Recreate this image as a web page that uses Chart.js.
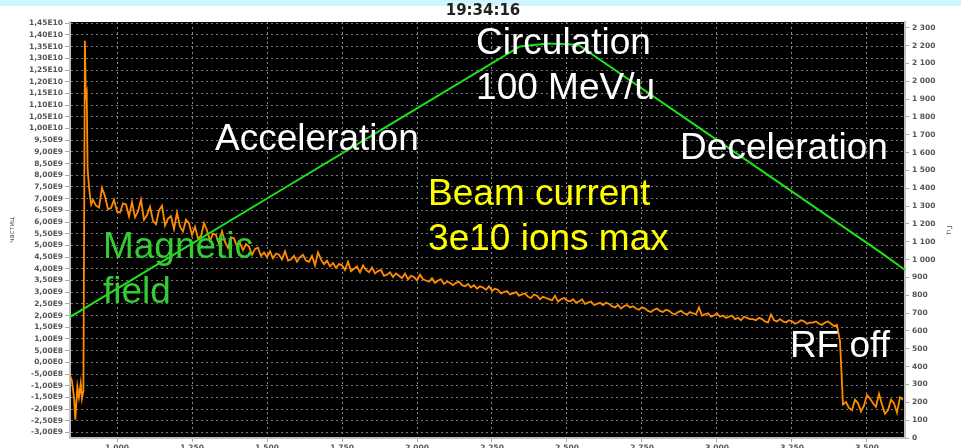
<!DOCTYPE html>
<html>
<head>
<meta charset="utf-8">
<script src="https://cdn.jsdelivr.net/npm/chart.js@4.4.1/dist/chart.umd.min.js"></script>
<style>
  html, body { margin: 0; padding: 0; background: #fff; overflow: hidden; }
  canvas { display: block; }
</style>
</head>
<body>
<canvas id="scopeChart" width="961" height="458"></canvas>
<script>
// Сигналы осциллографа: ток пучка (частицы, ×1E9) и магнитное поле (Гц)
const timeTicks = [1.0, 1.25, 1.5, 1.75, 2.0, 2.25, 2.5, 2.75, 3.0, 3.25, 3.5];
const beamTicks = [-3.0, -2.5, -2.0, -1.5, -1.0, -0.5, 0.0, 0.5, 1.0, 1.5, 2.0, 2.5, 3.0, 3.5,
  4.0, 4.5, 5.0, 5.5, 6.0, 6.5, 7.0, 7.5, 8.0, 8.5, 9.0, 9.5, 10.0, 10.5, 11.0, 11.5,
  12.0, 12.5, 13.0, 13.5, 14.0, 14.5];
const fieldTicks = [0, 100, 200, 300, 400, 500, 600, 700, 800, 900, 1000, 1100, 1200,
  1300, 1400, 1500, 1600, 1700, 1800, 1900, 2000, 2100, 2200, 2300];

// магнитное поле
const fieldTimes = [0.843, 1.543, 1.943, 2.343, 2.437, 2.537, 3.043, 3.543, 3.627];
const fieldValues = [678, 1386, 1790, 2195, 2212, 2205, 1621, 1043, 942];

// ток пучка до и во время инжекции
const injectTimes = [0.843, 0.850, 0.857, 0.861, 0.868, 0.873, 0.879, 0.883, 0.888,
  0.893, 0.896, 0.899, 0.902, 0.906, 0.910, 0.914];
const injectValues = [-0.55, -0.80, -1.55, -2.45, -1.05, -1.50, -0.90, -1.55, -1.20,
  13.75, 11.40, 11.55, 8.25, 7.60, 7.10, 6.75];

// ток пучка после инжекции, отсчёты через 10 мс начиная с 0,920 с
const beamT0 = 0.92;
const beamDt = 0.01;
const beamValues = [
  6.95, 6.70, 6.62, 7.45, 7.10, 6.55, 6.60, 6.95, 6.45, 6.40,
  6.80, 6.75, 6.25, 6.85, 6.20, 6.45, 6.95, 6.10, 6.30, 6.65,
  6.05, 5.90, 6.50, 6.70, 5.85, 6.15, 6.25, 5.70, 6.40, 5.80,
  5.60, 6.10, 5.95, 5.45, 5.80, 5.30, 5.40, 5.95, 5.65, 5.20,
  5.50, 5.45, 5.05, 5.60, 5.15, 4.90, 5.35, 5.30, 4.95, 5.10,
  4.80, 5.05, 4.95, 4.60, 4.85, 4.90, 4.55, 4.70, 4.50, 4.75,
  4.45, 4.65, 4.60, 4.40, 4.75, 4.35, 4.40, 4.55, 4.30, 4.50,
  4.60, 4.35, 4.30, 4.55, 4.15, 4.70, 4.40, 4.20, 4.35, 4.10,
  4.25, 4.05, 4.20, 4.15, 3.95, 4.30, 3.90, 4.00, 4.10, 3.85,
  4.15, 3.95, 3.85, 4.05, 3.80, 3.90, 3.95, 3.70, 3.75, 3.85,
  3.65, 3.80, 3.70, 3.60, 3.80, 3.55, 3.70, 3.65, 3.50, 3.75,
  3.55, 3.50, 3.45, 3.60, 3.40, 3.50, 3.55, 3.35, 3.45, 3.40,
  3.30, 3.40, 3.45, 3.30, 3.25, 3.35, 3.20, 3.30, 3.15, 3.25,
  3.20, 3.10, 3.25, 3.05, 3.15, 3.10, 2.95, 3.00, 3.05, 2.90,
  2.95, 3.00, 2.85, 2.90, 2.95, 2.80, 2.75, 2.90, 2.85, 2.70,
  2.80, 2.75, 2.70, 2.65, 2.85, 2.60, 2.70, 2.75, 2.65, 2.60,
  2.70, 2.55, 2.60, 2.70, 2.50, 2.55, 2.60, 2.45, 2.50, 2.55,
  2.45, 2.55, 2.50, 2.40, 2.35, 2.45, 2.30, 2.40, 2.45, 2.35,
  2.40, 2.30, 2.25, 2.35, 2.30, 2.20, 2.15, 2.25, 2.30, 2.20,
  2.15, 2.25, 2.20, 2.10, 2.05, 2.15, 2.20, 2.10, 2.05, 2.15,
  2.10, 2.05, 2.35, 2.00, 2.05, 2.10, 1.95, 2.00, 2.10, 1.95,
  2.00, 1.90, 1.95, 2.00, 1.85, 1.90, 1.80, 1.95, 1.90, 1.85,
  1.85, 1.80, 1.90, 1.85, 1.75, 1.70, 2.05, 1.80, 1.75, 1.85,
  1.75, 1.70, 1.80, 1.75, 1.65, 1.70, 1.80, 1.75, 1.65, 1.70,
  1.70, 1.75, 1.65, 1.60, 1.70, 1.75, 1.65, 1.55, 1.60, 0.90,
  -1.80, -1.70, -1.95, -2.05, -1.60, -1.75, -2.10, -1.85, -1.40, -1.55,
  -1.75, -1.90, -1.35, -1.80, -2.20, -2.05, -1.60, -1.75, -2.15, -1.50,
  -1.60
];

// подписи на поле графика: время, ток (×1E9) для базовой линии текста
const notes = [
  { text: 'Circulation', color: '#ffffff', t: 2.197, v: 13.19 },
  { text: '100 MeV/u', color: '#ffffff', t: 2.197, v: 11.26 },
  { text: 'Acceleration', color: '#ffffff', t: 1.327, v: 9.08 },
  { text: 'Deceleration', color: '#ffffff', t: 2.877, v: 8.70 },
  { text: 'Beam current', color: '#ffff00', t: 2.037, v: 6.73 },
  { text: '3e10 ions max', color: '#ffff00', t: 2.037, v: 4.80 },
  { text: 'Magnetic', color: '#33cc33', t: 0.953, v: 4.46 },
  { text: 'field', color: '#33cc33', t: 0.953, v: 2.54 },
  { text: 'RF off', color: '#ffffff', t: 3.243, v: 0.24 }
];

const beamPoints = injectTimes.map((t, i) => ({ x: t, y: injectValues[i] }))
  .concat(beamValues.map((v, i) => ({ x: beamT0 + i * beamDt, y: v })));
const fieldPoints = fieldTimes.map((t, i) => ({ x: t, y: fieldValues[i] }));

const tickFont = { family: '"DejaVu Sans", sans-serif', size: 7.5, weight: 'bold' };

function fmtBeam(v) {
  return (v * 1e9).toExponential(2).replace('.', ',').replace('e+', 'E').replace('e', 'E');
}
function fmtField(v) {
  if (v < 1000) return String(v);
  return Math.floor(v / 1000) + ' ' + String(v % 1000).padStart(3, '0');
}

const scopeBackground = {
  id: 'scopeBackground',
  beforeDraw(chart) {
    const { ctx, chartArea: a } = chart;
    ctx.save();
    ctx.fillStyle = '#ffffff';
    ctx.fillRect(0, 0, chart.width, chart.height);
    ctx.fillStyle = '#ccf6fb';
    ctx.fillRect(0, 0, chart.width, 6);
    ctx.fillStyle = '#000000';
    ctx.fillRect(a.left, a.top, a.right - a.left, a.bottom - a.top);
    // время снимка
    ctx.fillStyle = '#222';
    ctx.font = 'bold 15px "DejaVu Sans", sans-serif';
    ctx.textAlign = 'center';
    ctx.textBaseline = 'middle';
    ctx.fillText('19:34:16', 483, 11);
    ctx.restore();
  },
  afterDatasetsDraw(chart) {
    const { ctx } = chart;
    const xs = chart.scales.x;
    const ys = chart.scales.yBeam;
    ctx.save();
    ctx.font = '37px "Liberation Sans", Arial, sans-serif';
    ctx.textAlign = 'left';
    ctx.textBaseline = 'alphabetic';
    notes.forEach(n => {
      ctx.fillStyle = n.color;
      ctx.fillText(n.text, xs.getPixelForValue(n.t), ys.getPixelForValue(n.v));
    });
    ctx.restore();
  }
};

const ctx = document.getElementById('scopeChart').getContext('2d');
new Chart(ctx, {
  type: 'line',
  data: {
    datasets: [
      {
        label: 'Магнитное поле',
        data: fieldPoints,
        yAxisID: 'yField',
        borderColor: '#1ee01e',
        borderWidth: 2,
        pointRadius: 0,
        tension: 0
      },
      {
        label: 'Ток пучка',
        data: beamPoints,
        yAxisID: 'yBeam',
        borderColor: '#ff8c00',
        borderWidth: 1.8,
        pointRadius: 0,
        tension: 0
      }
    ]
  },
  options: {
    responsive: false,
    animation: false,
    layout: { padding: { top: 22, left: 0, right: 0, bottom: 0 } },
    plugins: {
      legend: { display: false },
      title: { display: false },
      tooltip: { enabled: false }
    },
    scales: {
      x: {
        type: 'linear',
        min: 0.8433,
        max: 3.6267,
        afterBuildTicks: s => { s.ticks = timeTicks.map(v => ({ value: v })); },
        afterFit: s => { s.height = 20; },
        ticks: {
          font: tickFont, color: '#555', padding: 2, maxRotation: 0, autoSkip: false,
          callback: v => v.toFixed(3).replace('.', ',')
        },
        grid: { color: '#8a8a8a', tickColor: '#aaa', tickLength: 4, tickBorderDash: [] },
        border: { color: '#c0c0c0', width: 2, dash: [2, 3] }
      },
      yBeam: {
        position: 'left',
        min: -3.237,
        max: 14.556,
        afterBuildTicks: s => { s.ticks = beamTicks.map(v => ({ value: v })); },
        afterFit: s => { s.width = 70; },
        ticks: { font: tickFont, color: '#555', padding: 2, autoSkip: false, callback: v => fmtBeam(v) },
        title: { display: true, text: 'частиц', color: '#555', font: { size: 7, family: '"DejaVu Sans", sans-serif' }, padding: 8 },
        grid: { color: '#777', tickColor: '#aaa', tickLength: 5, tickBorderDash: [] },
        border: { color: '#c0c0c0', width: 2, dash: [2, 3] }
      },
      yField: {
        position: 'right',
        min: 0,
        max: 2332,
        afterBuildTicks: s => { s.ticks = fieldTicks.map(v => ({ value: v })); },
        afterFit: s => { s.width = 56; },
        ticks: { font: tickFont, color: '#555', padding: 3, autoSkip: false, callback: v => fmtField(v) },
        title: { display: true, text: 'Гц', color: '#555', font: { size: 7, family: '"DejaVu Sans", sans-serif' }, padding: 8 },
        grid: { drawOnChartArea: false, color: '#aaa', tickColor: '#aaa', tickLength: 4 },
        border: { color: '#c0c0c0', width: 2 }
      }
    }
  },
  plugins: [scopeBackground]
});
</script>
</body>
</html>
